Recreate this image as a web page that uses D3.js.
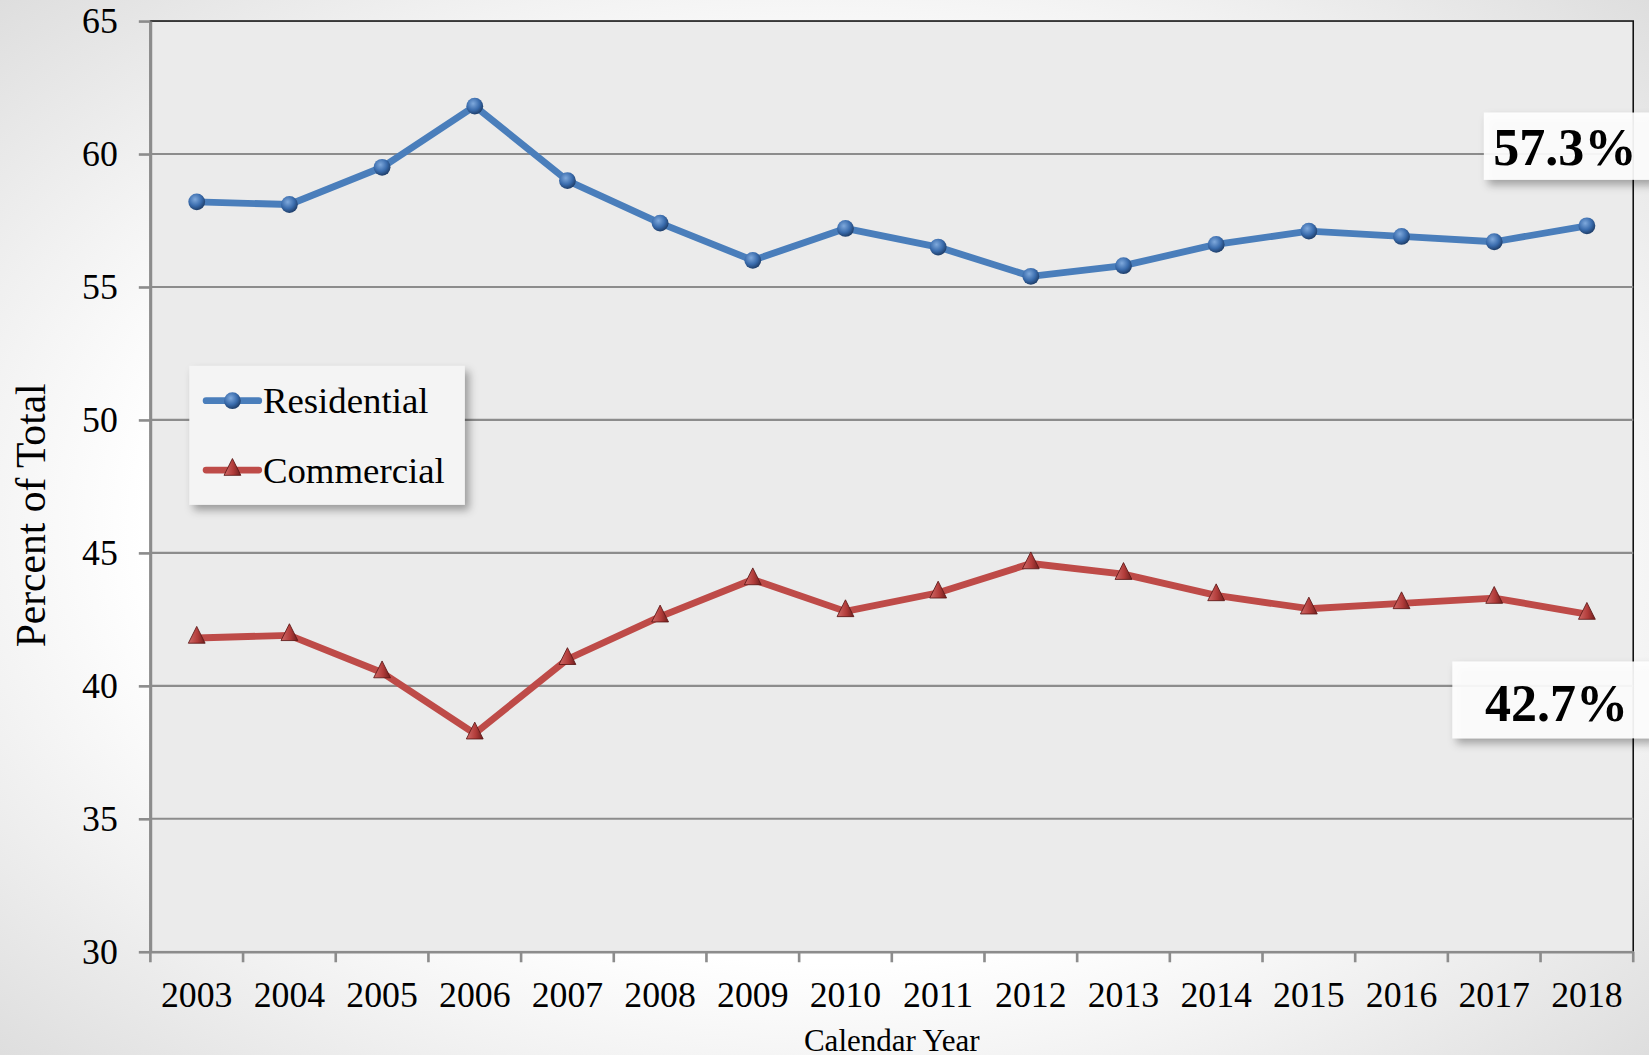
<!DOCTYPE html>
<html>
<head>
<meta charset="utf-8">
<script src="https://cdn.jsdelivr.net/npm/d3@7"></script>
<style>
  html, body { margin: 0; padding: 0; }
  body { width: 1649px; height: 1055px; overflow: hidden; }
  text { font-family: "Liberation Serif", "Times New Roman", serif; }
</style>
</head>
<body>
<svg id="chart" width="1649" height="1055"></svg>
<script>
//////////////////////////////////////////////////////////////////////////////
// Data

var years = ["2003", "2004", "2005", "2006", "2007", "2008", "2009", "2010",
             "2011", "2012", "2013", "2014", "2015", "2016", "2017", "2018"];

var residential = [58.2, 58.1, 59.5, 61.8, 59.0, 57.4, 56.0, 57.2,
                   56.5, 55.4, 55.8, 56.6, 57.1, 56.9, 56.7, 57.3];

var commercial = [41.8, 41.9, 40.5, 38.2, 41.0, 42.6, 44.0, 42.8,
                  43.5, 44.6, 44.2, 43.4, 42.9, 43.1, 43.3, 42.7];

var yTicks = [30, 35, 40, 45, 50, 55, 60, 65];

var seriesNames = ["Residential", "Commercial"];
var endLabels = ["57.3%", "42.7%"];

//////////////////////////////////////////////////////////////////////////////
// Layout (drawn on a 1568 x 1003 grid, scaled up to the page)

var k = 1649 / 1568;
var plotLeft = 143, plotRight = 1553, plotTop = 20, plotBottom = 905;

var svg = d3.select("#chart");
var defs = svg.append("defs");

var xScale = d3.scaleBand().domain(years).range([plotLeft, plotRight]);
var yScale = d3.scaleLinear().domain([30, 65]).range([plotBottom, plotTop]);

function xc(i) { return xScale(years[i]) + xScale.bandwidth() / 2; }

// page background with soft grey corners
var bg = defs.append("radialGradient").attr("id", "bg")
    .attr("cx", "50%").attr("cy", "50%").attr("r", "75%");
bg.append("stop").attr("offset", "55%").attr("stop-color", "#ffffff");
bg.append("stop").attr("offset", "100%").attr("stop-color", "#d9d9d9");

var blue = defs.append("radialGradient").attr("id", "ball")
    .attr("cx", "40%").attr("cy", "35%").attr("r", "65%");
blue.append("stop").attr("offset", "0%").attr("stop-color", "#7fa9dc");
blue.append("stop").attr("offset", "60%").attr("stop-color", "#3a6cad");
blue.append("stop").attr("offset", "100%").attr("stop-color", "#1f3f6b");

var red = defs.append("linearGradient").attr("id", "tri")
    .attr("x1", "0%").attr("y1", "0%").attr("x2", "100%").attr("y2", "0%");
red.append("stop").attr("offset", "0%").attr("stop-color", "#d06a68");
red.append("stop").attr("offset", "55%").attr("stop-color", "#b23c3a");
red.append("stop").attr("offset", "100%").attr("stop-color", "#6e1e1d");

var shadow = defs.append("filter").attr("id", "shadow")
    .attr("x", "-20%").attr("y", "-20%").attr("width", "150%").attr("height", "150%");
shadow.append("feDropShadow").attr("dx", 4).attr("dy", 5)
    .attr("stdDeviation", 4).attr("flood-color", "#000").attr("flood-opacity", 0.35);

svg.append("rect").attr("width", 1649).attr("height", 1055).attr("fill", "url(#bg)");

var g = svg.append("g").attr("transform", "scale(" + k + ")");

// plot area
g.append("rect")
    .attr("x", plotLeft).attr("y", plotTop)
    .attr("width", plotRight - plotLeft).attr("height", plotBottom - plotTop)
    .attr("fill", "#ebebeb").attr("stroke", "#111").attr("stroke-width", 1.5);

// grid lines
g.append("g").selectAll("line")
    .data(yTicks.slice(1, -1))
    .enter().append("line")
    .attr("x1", plotLeft).attr("x2", plotRight)
    .attr("y1", function(d) { return yScale(d); })
    .attr("y2", function(d) { return yScale(d); })
    .attr("stroke", "#8c8c8c").attr("stroke-width", 2);

// y axis
var yAxis = g.append("g")
    .attr("transform", "translate(" + plotLeft + ",0)")
    .call(d3.axisLeft(yScale).tickValues(yTicks).tickSizeInner(11).tickSizeOuter(0).tickPadding(20));
yAxis.select(".domain").attr("stroke", "#8c8c8c").attr("stroke-width", 2.5);
yAxis.selectAll(".tick line").attr("stroke", "#8c8c8c").attr("stroke-width", 2.5);
yAxis.selectAll(".tick text")
    .attr("font-family", "Liberation Serif").attr("font-size", 34).attr("fill", "#000");

// x axis with ticks on band edges
var xAxis = g.append("g")
    .attr("transform", "translate(0," + plotBottom + ")")
    .call(d3.axisBottom(xScale).tickSize(0));
xAxis.select(".domain").attr("stroke", "#8c8c8c").attr("stroke-width", 2.5);
xAxis.selectAll(".tick text")
    .attr("y", 53).attr("dy", 0)
    .attr("font-family", "Liberation Serif").attr("font-size", 34).attr("fill", "#000");
xAxis.selectAll(".edge")
    .data(years.concat(["end"]))
    .enter().append("line")
    .attr("x1", function(d, i) { return plotLeft + i * xScale.bandwidth(); })
    .attr("x2", function(d, i) { return plotLeft + i * xScale.bandwidth(); })
    .attr("y1", 0).attr("y2", 10)
    .attr("stroke", "#8c8c8c").attr("stroke-width", 2.5);

// axis titles
g.append("text")
    .attr("transform", "translate(43,490) rotate(-90)")
    .attr("text-anchor", "middle").attr("font-size", 39.5)
    .text("Percent of Total");

g.append("text")
    .attr("x", (plotLeft + plotRight) / 2).attr("y", 999)
    .attr("text-anchor", "middle").attr("font-size", 29.5)
    .text("Calendar Year");

// lines
var line = d3.line()
    .x(function(d, i) { return xc(i); })
    .y(function(d) { return yScale(d); });

g.append("path").datum(residential)
    .attr("d", line).attr("fill", "none")
    .attr("stroke", "#4a7ebb").attr("stroke-width", 6.5).attr("stroke-linejoin", "round");

g.append("path").datum(commercial)
    .attr("d", line).attr("fill", "none")
    .attr("stroke", "#be4b48").attr("stroke-width", 6.5).attr("stroke-linejoin", "round");

var triangle = "M0,-11 L8,5 L-8,5 Z";

g.append("g").selectAll("circle")
    .data(residential)
    .enter().append("circle")
    .attr("cx", function(d, i) { return xc(i); })
    .attr("cy", function(d) { return yScale(d); })
    .attr("r", 8).attr("fill", "url(#ball)");

g.append("g").selectAll("path")
    .data(commercial)
    .enter().append("path")
    .attr("transform", function(d, i) {
        return "translate(" + xc(i) + "," + yScale(d) + ")";
    })
    .attr("d", triangle).attr("fill", "url(#tri)")
    .attr("stroke", "#5a1716").attr("stroke-width", 0.8);

// legend
var legend = g.append("g");
legend.append("rect")
    .attr("x", 180).attr("y", 348).attr("width", 262).attr("height", 132)
    .attr("fill", "#f4f4f4").attr("filter", "url(#shadow)");

var legendRows = legend.selectAll("g.row")
    .data(seriesNames)
    .enter().append("g")
    .attr("transform", function(d, i) { return "translate(0," + (381 + i * 66) + ")"; });

legendRows.append("line")
    .attr("x1", 196).attr("x2", 246).attr("y1", 0).attr("y2", 0)
    .attr("stroke", function(d, i) { return i === 0 ? "#4a7ebb" : "#be4b48"; })
    .attr("stroke-width", 6.5).attr("stroke-linecap", "round");

legendRows.filter(function(d, i) { return i === 0; })
    .append("circle").attr("cx", 221).attr("cy", 0).attr("r", 8).attr("fill", "url(#ball)");

legendRows.filter(function(d, i) { return i === 1; })
    .append("path").attr("transform", "translate(221,0)")
    .attr("d", triangle).attr("fill", "url(#tri)")
    .attr("stroke", "#5a1716").attr("stroke-width", 0.8);

legendRows.append("text")
    .attr("x", 250).attr("y", 12)
    .attr("font-size", 35)
    .text(function(d) { return d; });

// end value boxes
var boxes = [
    { x: 1411, y: 107, w: 160, h: 64, tx: 1488, ty: 157 },
    { x: 1381, y: 629, w: 190, h: 73, tx: 1480, ty: 686 }
];

g.append("g").selectAll("rect")
    .data(boxes)
    .enter().append("rect")
    .attr("x", function(d) { return d.x; })
    .attr("y", function(d) { return d.y; })
    .attr("width", function(d) { return d.w; })
    .attr("height", function(d) { return d.h; })
    .attr("fill", "#ffffff").attr("fill-opacity", 0.9)
    .attr("filter", "url(#shadow)");

g.append("g").selectAll("text")
    .data(endLabels)
    .enter().append("text")
    .attr("x", function(d, i) { return boxes[i].tx; })
    .attr("y", function(d, i) { return boxes[i].ty; })
    .attr("text-anchor", "middle")
    .attr("font-size", 49.5).attr("font-weight", "bold")
    .text(function(d) { return d; });
</script>
</body>
</html>
